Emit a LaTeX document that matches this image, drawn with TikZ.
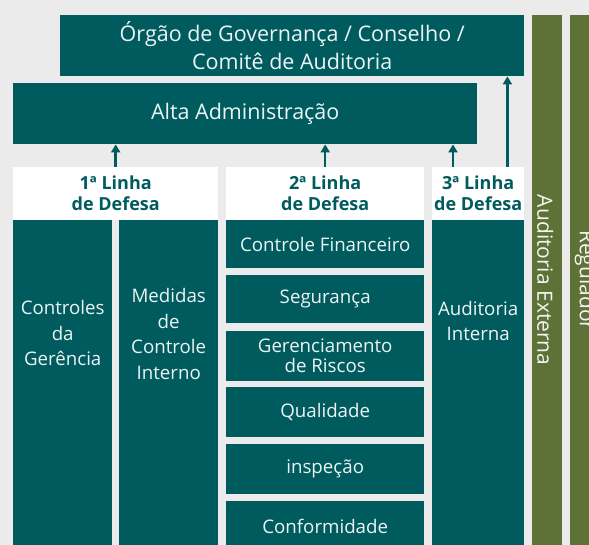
\documentclass[tikz,border=0pt]{standalone}
\usepackage{fontspec}
\setmainfont{Open Sans}
\usetikzlibrary{arrows.meta}
\definecolor{govteal}{RGB}{0,91,95}
\definecolor{extgreen}{RGB}{94,114,56}
\definecolor{panelgray}{RGB}{235,235,235}

\begin{document}
\begin{tikzpicture}[x=1pt, y=-1pt,
  sz/.style 2 args={minimum width=#1pt, minimum height=#2pt},
  box/.style={fill=govteal, text=white!93!govteal, inner sep=0pt, anchor=north west,
              align=center, font=\fontsize{18.7}{25.5}\selectfont},
  txt/.style={text=white!93!govteal, inner sep=0pt, align=center,
              font=\fontsize{18.7}{25.5}\selectfont},
  hdr/.style={fill=white, text=govteal, inner sep=0pt, anchor=north west,
              align=center, font=\bfseries\fontsize{18}{21}\selectfont},
  side/.style={fill=extgreen, inner sep=0pt, anchor=north west},
  sidetxt/.style={text=white!93!extgreen, rotate=-90, inner sep=0pt,
              font=\fontsize{21}{24}\selectfont},
  arr/.style={-{Triangle[length=8pt, width=9pt]}, line width=2.5pt, govteal}
]
  \useasboundingbox[fill=panelgray] (0,0) rectangle (589,545);

  %% Top boxes
  \node[box, sz={464}{61}, font=\fontsize{21.5}{28}\selectfont] (orgao) at (60,15)
    {Órgão de Governança / Conselho /\\Comitê de Auditoria};
  \node[box, sz={464}{61}, font=\fontsize{21.5}{28}\selectfont] (alta) at (13,83)
    {Alta Administração};

  %% External bars
  \node[side, sz={30}{530}] (extaud) at (532,15) {};
  \node[side, sz={30}{530}] (regul)  at (570,15) {};
  \node[sidetxt] (extaudT) at ([xshift=-2pt]extaud.center) {Auditoria Externa};
  \node[sidetxt] (regulT)  at (regul.center) {Regulador};

  %% Line headers
  \node[hdr, sz={205}{53}] (lineA) at (13,167)  {1ª Linha\\de Defesa};
  \node[hdr, sz={198}{53}] (lineB) at (226,167) {2ª Linha\\de Defesa};
  \node[hdr, sz={92}{53}]  (lineC) at (432,167) {3ª Linha\\de Defesa};

  %% First line
  \node[box, sz={99}{325}] (gerencia) at (13,220)  {};
  \node[box, sz={99}{325}] (medidas)  at (119,220) {};
  \node[txt] (gerenciaT) at ([yshift=-113pt]gerencia.north) {Controles\\da\\Gerência};
  \node[txt] (medidasT)  at ([yshift=-114pt]medidas.north)  {Medidas\\de\\Controle\\Interno};

  %% Second line
  \node[box, sz={198}{48}] (financ)  at (226,220) {Controle Financeiro};
  \node[box, sz={198}{48}] (segur)   at (226,275) {Segurança};
  \node[box, sz={198}{50}] (riscos)  at (226,331) {Gerenciamento\\[-5.5pt]de Riscos};
  \node[box, sz={198}{50}] (qualid)  at (226,387) {Qualidade};
  \node[box, sz={198}{50}] (inspec)  at (226,444) {inspeção};
  \node[box, sz={198}{50}] (conform) at (226,501) {Conformidade};

  %% Third line
  \node[box, sz={92}{325}] (interna) at (432,220) {};
  \node[txt] (internaT) at ([yshift=-101pt]interna.north) {Auditoria\\Interna};

  %% Reporting arrows
  \draw[arr] (lineA.north) -- (lineA.north |- alta.south);
  \draw[arr] (lineB.north) -- (lineB.north |- alta.south);
  \draw[arr] ([xshift=21pt]lineC.north west) -- ([xshift=21pt]lineC.north west |- alta.south);
  \draw[arr] ([xshift=-17pt]lineC.north east) -- ([xshift=-17pt]lineC.north east |- orgao.south);
\end{tikzpicture}
\end{document}
